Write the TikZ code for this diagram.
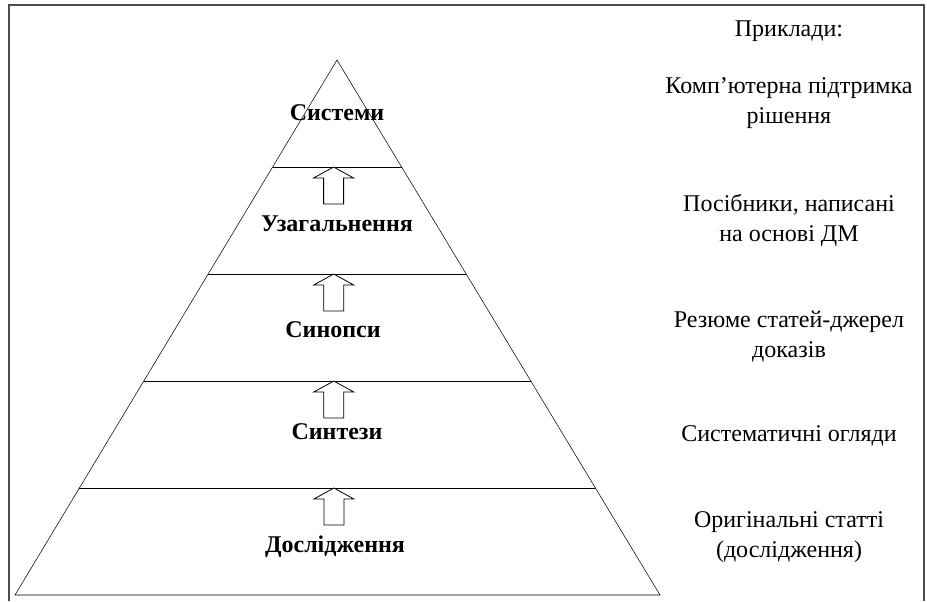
\documentclass[tikz,border=0pt]{standalone}
\usepackage{fontspec}
\setmainfont{Liberation Serif}
\usetikzlibrary{calc,positioning}

\begin{document}
\begin{tikzpicture}[x=0.75pt,y=-0.75pt,
  level/.style={font=\bfseries\fontsize{18}{21}\selectfont},
  example/.style={font=\fontsize{18}{22.5}\selectfont,align=center},
  uparrow/.style={draw,fill=white,line width=0.6pt}]
\useasboundingbox (0,0) rectangle (927,601);
% frame
\draw[black!70,line width=0.8pt] (9,601) -- (9,5) -- (924,5) -- (924,601);
% pyramid
\coordinate (top) at (337,60);
\coordinate (bl)  at (15,595);
\coordinate (br)  at (660,595);
\draw (bl) -- (top) -- (br) -- cycle;
\foreach \t/\n in {0.2/1,0.4/2,0.6/3,0.8/4}{
  \coordinate (l\n) at ($(top)!\t!(bl)$);
  \coordinate (r\n) at ($(top)!\t!(br)$);
  \draw (l\n) -- (r\n);
  \coordinate (a\n) at ($(l\n)!0.5!(r\n)+(-3.5,0)$);
  \draw[uparrow] (a\n) -- ++(-20,11) -- ++(10,0) -- ++(0,26)
    -- ++(20,0) -- ++(0,-26) -- ++(10,0) -- cycle;
}
% levels
\node[level] (sys)   at (337,113) {Системи};
\node[level] (uzag)  at (337,224) {Узагальнення};
\node[level] (synop) at (333,330) {Синопси};
\node[level] (synt)  at (337,432) {Синтези};
\node[level] (dosl)  at (335,547) {Дослідження};
% examples
\node[example] (pryk) at (789,31)  {Приклади:};
\node[example] (ex1)  at (789,103) {Комп’ютерна підтримка\\рішення};
\node[example] (ex2)  at (789,220) {Посібники, написані\\на основі ДМ};
\node[example] (ex3)  at (789,337) {Резюме статей-джерел\\доказів};
\node[example] (ex4)  at (789,436) {Систематичні огляди};
\node[example] (ex5)  at (789,537) {Оригінальні статті\\(дослідження)};
\end{tikzpicture}
\end{document}
